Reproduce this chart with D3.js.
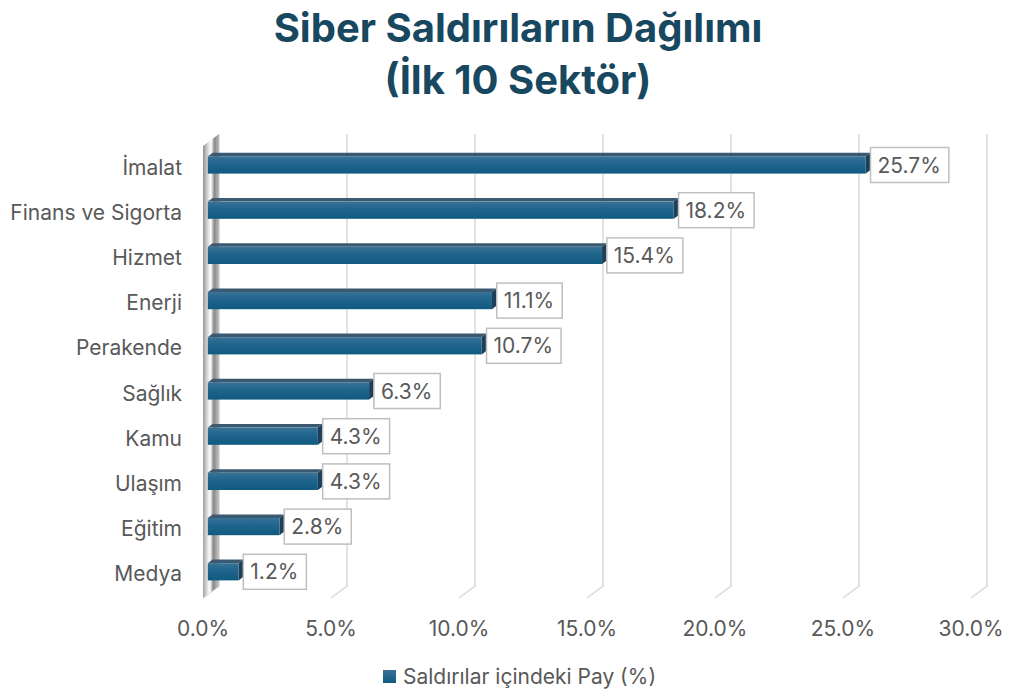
<!DOCTYPE html>
<html><head><meta charset="utf-8">
<script src="https://cdn.jsdelivr.net/npm/d3@7"></script>
<style>body{margin:0;background:#fff}svg{display:block}</style>
</head><body>
<script>
const categories = ["İmalat","Finans ve Sigorta","Hizmet","Enerji","Perakende","Sağlık","Kamu","Ulaşım","Eğitim","Medya"];
const values = [25.7,18.2,15.4,11.1,10.7,6.3,4.3,4.3,2.8,1.2];
const tickValues = [0,5,10,15,20,25,30];
const titleLines = ["Siber Saldırıların Dağılımı","(İlk 10 Sektör)"];
const seriesName = "Saldırılar içindeki Pay (%)";

const W=1018,H=698;
const FONT="Inter, 'Open Sans', sans-serif";
const svg=d3.select("body").append("svg").attr("width",W).attr("height",H);
const defs=svg.append("defs");

const DX=16, DY=-12;           // 3D depth offset
const x=d3.scaleLinear().domain([0,30]).range([203,971]);
const y=d3.scaleBand().domain(categories).range([146,598]).paddingInner(0.62).paddingOuter(0.31);
const t1=0.3,t2=0.6;

// gradients
const gFront=defs.append("linearGradient").attr("id","gFront").attr("x1",0).attr("y1",0).attr("x2",0).attr("y2",1);
[[0,"#3a7396"],[0.35,"#23668e"],[1,"#0f5a80"]].forEach(s=>gFront.append("stop").attr("offset",s[0]).attr("stop-color",s[1]));
const gLeg=defs.append("linearGradient").attr("id","gLeg").attr("x1",0).attr("y1",0).attr("x2",0).attr("y2",1);
[[0,"#3a7396"],[1,"#0f5a80"]].forEach(s=>gLeg.append("stop").attr("offset",s[0]).attr("stop-color",s[1]));
const gWall=defs.append("linearGradient").attr("id","gWall").attr("x1",0).attr("y1",0).attr("x2",1).attr("y2",0.08);
[[0,"#8f8f8f"],[0.3,"#d6d6d6"],[0.5,"#ffffff"],[0.72,"#888888"],[1,"#bdbdbd"]].forEach(s=>gWall.append("stop").attr("offset",s[0]).attr("stop-color",s[1]));

// title
svg.append("g").selectAll("text").data(titleLines).join("text")
  .attr("x",518).attr("y",(d,i)=>42+i*52).attr("text-anchor","middle")
  .attr("font-family",FONT).attr("font-weight",700).attr("font-size",40).attr("fill","#17485f").text(d=>d);

// gridlines (back wall + floor diagonal)
const grid=svg.append("g");
tickValues.forEach(v=>{
  const bx=x(v)+DX;
  grid.append("path").attr("d",`M${bx},${146+DY}L${bx},${598+DY}L${x(v)},598`)
    .attr("fill","none").attr("stroke","#d9d9d9").attr("stroke-width",1.5);
});

// side wall
svg.append("path").attr("d",`M${x(0)},146L${x(0)+DX},${146+DY}L${x(0)+DX},${598+DY}L${x(0)},598Z`).attr("fill","url(#gWall)");

// bars
const bars=svg.append("g").selectAll("g").data(categories).join("g");
bars.each(function(c,i){
  const g=d3.select(this), v=values[i];
  const fx=x(0)+DX*t1, fy=y(c)+DY*t1, h=y.bandwidth();
  const ex=x(v)+DX*t1;
  const bdx=DX*(t2-t1), bdy=DY*(t2-t1);
  g.append("path").attr("d",`M${fx},${fy}L${fx+bdx},${fy+bdy}L${ex+bdx},${fy+bdy}L${ex},${fy}Z`).attr("fill","#3b5a72");
  g.append("path").attr("d",`M${ex},${fy}L${ex+bdx},${fy+bdy}L${ex+bdx},${fy+bdy+h}L${ex},${fy+h}Z`).attr("fill","#1d3f57");
  g.append("rect").attr("x",fx).attr("y",fy).attr("width",ex-fx).attr("height",h).attr("fill","url(#gFront)");
});

// data labels
const fmt=d3.format(".1f");
const labels=svg.append("g").selectAll("g").data(categories).join("g");
labels.each(function(c,i){
  const g=d3.select(this), v=values[i];
  const lx=x(v)+DX*t2;
  const cy=y(c)+DY*t1+y.bandwidth()/2;
  const rect=g.append("rect").attr("fill","#fff").attr("stroke","#bfbfbf").attr("stroke-width",1.5);
  const t=g.append("text").attr("x",lx+7).attr("y",cy).attr("dy","0.36em")
    .attr("font-family",FONT).attr("font-size",21).attr("fill","#595959").text(fmt(v)+"%");
  const w=t.node().getComputedTextLength();
  rect.attr("x",lx).attr("y",cy-17.5).attr("width",w+15).attr("height",35);
});

// category labels
svg.append("g").selectAll("text").data(categories).join("text")
  .attr("x",182).attr("y",c=>y(c)+DY*t1+y.bandwidth()/2+2).attr("dy","0.36em").attr("text-anchor","end")
  .attr("font-family",FONT).attr("font-size",21).attr("fill","#595959").text(d=>d);

// x tick labels
svg.append("g").selectAll("text").data(tickValues).join("text")
  .attr("x",v=>x(v)).attr("y",628).attr("dy","0.36em").attr("text-anchor","middle")
  .attr("font-family",FONT).attr("font-size",21).attr("fill","#595959").text(v=>d3.format(".1%")(v/100));

// legend
svg.append("rect").attr("x",383).attr("y",670).attr("width",13).attr("height",13).attr("fill","url(#gLeg)");
svg.append("text").attr("x",403).attr("y",676.5).attr("dy","0.36em")
  .attr("font-family",FONT).attr("font-size",21).attr("fill","#595959").text(seriesName);
</script>
</body></html>
